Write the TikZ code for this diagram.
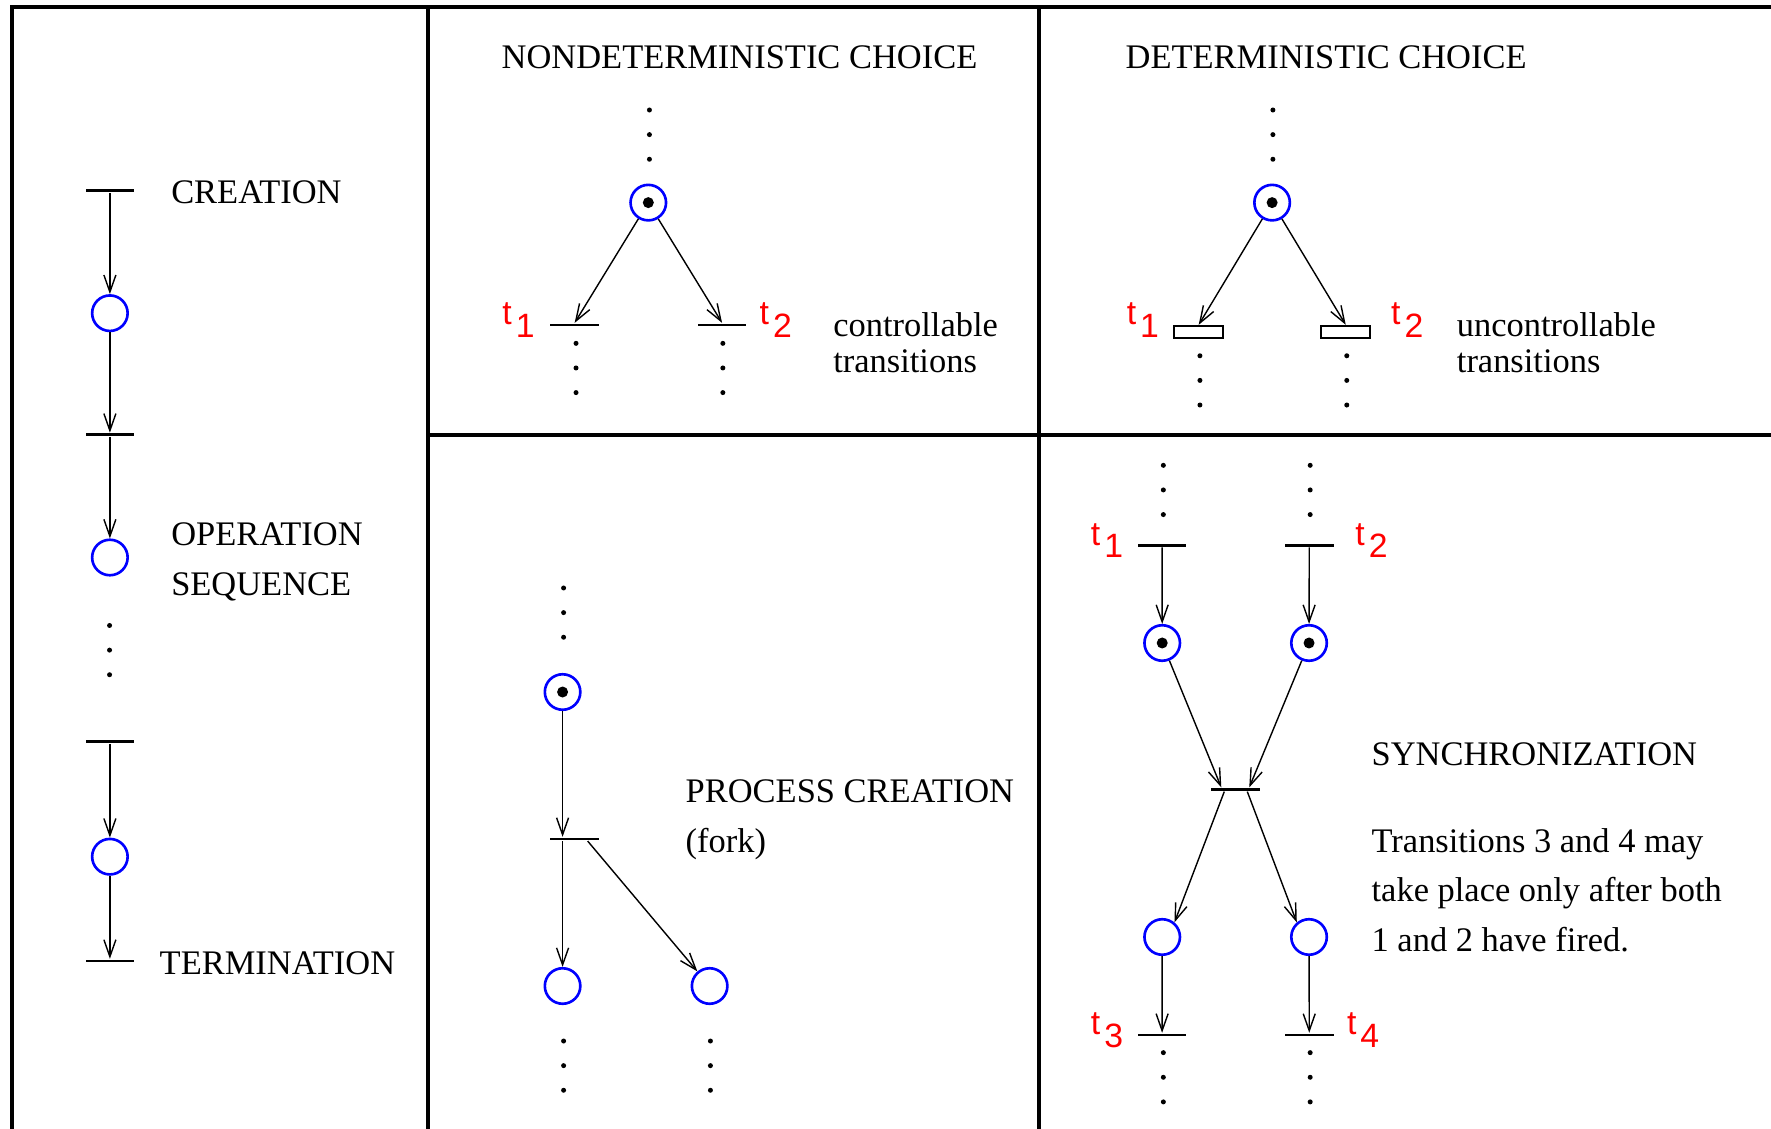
\documentclass[tikz,border=0pt]{standalone}
\usepackage{fontspec}
\setmainfont{Liberation Serif}
\newfontfamily\tlabfont{Liberation Sans}
\usetikzlibrary{positioning}
\usetikzlibrary{calc}
\usetikzlibrary{arrows.meta}

\tikzset{
  place/.style={circle, draw=blue, line width=0.75pt, minimum size=3.55mm, inner sep=0pt},
  marked/.style={place, path picture={\fill[black] (path picture bounding box.center) circle (0.55mm);}},
  tbar/.style={rectangle, fill=black, minimum width=4.85mm, minimum height=0.8pt, inner sep=0pt},
  ubox/.style={rectangle, draw, line width=0.5pt, minimum width=4.9mm, minimum height=1.2mm, inner sep=0pt},
  flow/.style={-{Straight Barb[length=1.7mm,width=1.2mm]}, line width=0.4pt},
  txt/.style={anchor=base west, inner sep=0pt, align=left, font=\fontsize{9.8}{14.1}\selectfont},
  tlab/.style={anchor=base west, inner sep=0pt, text=red, font=\tlabfont\fontsize{9.6}{10}\selectfont},
  border/.style={line width=1.2pt},
}
\newcommand{\tsub}[1]{t\kern0.12em\raisebox{-0.36em}{#1}}

\begin{document}
\begin{tikzpicture}[x=0.011295cm, y=-0.011295cm]
    \clip (0,0) rectangle (1568,999);

    % Frame and panel dividers
    \draw[border] (10.6,1050) -- (10.6,5.9) -- (1600,5.9);
    \draw[border] (379,5.9) -- (379,1050);
    \draw[border] (920,5.9) -- (920,1050);
    \draw[border] (379,385) -- (1600,385);

    % Dots (three per column)
    \foreach \x/\y in {97/553.8, 575/97.4, 510/304, 640/304, 1127/97.4, 1062.4/315, 1192.4/315,
                       499/520.6, 499/921.7, 629/921.7, 1030/412, 1160/412, 1030/932, 1160/932} {
        \foreach \k in {0,1,2} {
            \fill ({\x},{\y+21.8*\k}) circle (0.25mm);
        }
    }

    % Left column: creation, operation sequence, termination
    \node[tbar] (creT) at (97.3,168.8) {};
    \node[place] (creP) at (97.3,277.3) {};
    \node[tbar] (opT) at (97.3,385) {};
    \node[place] (opP) at (97.3,493.6) {};
    \node[tbar] (terT0) at (97.3,656.8) {};
    \node[place] (terP) at (97.3,758.5) {};
    \node[tbar] (terT) at (97.3,850.8) {};
    \draw[flow] (creT) -- (creP);
    \draw[flow] (creP) -- (opT);
    \draw[flow] (opT) -- (opP);
    \draw[flow] (terT0) -- (terP);
    \draw[flow] (terP) -- (terT);
    \node[txt] (creLab) at (151,180) {CREATION};
    \node[txt] (opLab) at (151,527) {OPERATION\\SEQUENCE};
    \node[txt] (terLab) at (140.8,862.5) {TERMINATION};

    % Nondeterministic choice
    \node[txt] (ndTitle) at (443.6,60.5) {NONDETERMINISTIC CHOICE};
    \node[marked] (ndP) at (574,179.4) {};
    \node[tbar] (ndT1) at (508.8,287.7) {};
    \node[tbar] (ndT2) at (639.3,287.7) {};
    \draw[flow] (ndP) -- (ndT1.north);
    \draw[flow] (ndP) -- (ndT2.north);
    \node[tlab] (ndL1) at (444.2,287.7) {\tsub{1}};
    \node[tlab] (ndL2) at (672,287.7) {\tsub{2}};
    \node[txt, font=\fontsize{9.8}{10.2}\selectfont] (ndLab) at (737.2,330) {controllable\\transitions};

    % Deterministic choice
    \node[txt] (dTitle) at (996,60.5) {DETERMINISTIC CHOICE};
    \node[marked] (dP) at (1126.3,179.4) {};
    \node[ubox] (dT1) at (1061.3,293.7) {};
    \node[ubox] (dT2) at (1191.5,293.7) {};
    \draw[flow] (dP) -- (dT1.north);
    \draw[flow] (dP) -- (dT2.north);
    \node[tlab] (dL1) at (997,287.7) {\tsub{1}};
    \node[tlab] (dL2) at (1231,287.7) {\tsub{2}};
    \node[txt, font=\fontsize{9.8}{10.2}\selectfont] (dLab) at (1289.3,330) {uncontrollable\\transitions};

    % Process creation (fork)
    \node[marked] (frkP) at (498.1,612.7) {};
    \node[tbar] (frkT) at (508.8,742.8) {};
    \node[place] (frkA) at (498.1,873) {};
    \node[place] (frkB) at (628.3,873) {};
    \draw[flow] (frkP) -- (frkP |- frkT.north);
    \draw[flow] (frkP |- frkT.south) -- (frkA);
    \draw[flow] ([xshift=1.3mm]frkT.south) -- (frkB);
    \node[txt] (frkLab) at (606.5,754.5) {PROCESS CREATION\\(fork)};

    % Synchronization
    \node[tbar] (syT1) at (1028.9,482.8) {};
    \node[tbar] (syT2) at (1159.2,482.8) {};
    \node[marked] (syP1) at (1029,569.3) {};
    \node[marked] (syP2) at (1159,569.3) {};
    \node[tbar] (syT) at (1093.7,699) {};
    \node[place] (syP3) at (1029,829.6) {};
    \node[place] (syP4) at (1159,829.6) {};
    \node[tbar] (syT3) at (1028.9,916.3) {};
    \node[tbar] (syT4) at (1159.2,916.3) {};
    \draw[flow] (syT1) -- (syP1);
    \draw[flow] (syT2) -- (syP2);
    \draw[flow] (syP1) -- ([xshift=-1.4mm]syT.north);
    \draw[flow] (syP2) -- ([xshift=1.4mm]syT.north);
    \draw[flow] ([xshift=-1.1mm]syT.south) -- (syP3.50);
    \draw[flow] ([xshift=1.2mm]syT.south) -- (syP4.130);
    \draw[flow] (syP3) -- (syT3);
    \draw[flow] (syP4) -- (syT4);
    \node[tlab] (syL1) at (965.3,482.8) {\tsub{1}};
    \node[tlab] (syL2) at (1199.4,482.8) {\tsub{2}};
    \node[tlab] (syL3) at (965.3,916.3) {\tsub{3}};
    \node[tlab] (syL4) at (1192,916.3) {\tsub{4}};
    \node[txt] (syTitle) at (1213.8,677.6) {SYNCHRONIZATION};
    \node[txt] (syLab) at (1213.8,842.5) {Transitions 3 and 4 may\\take place only after both\\1 and 2 have fired.};
\end{tikzpicture}
\end{document}
